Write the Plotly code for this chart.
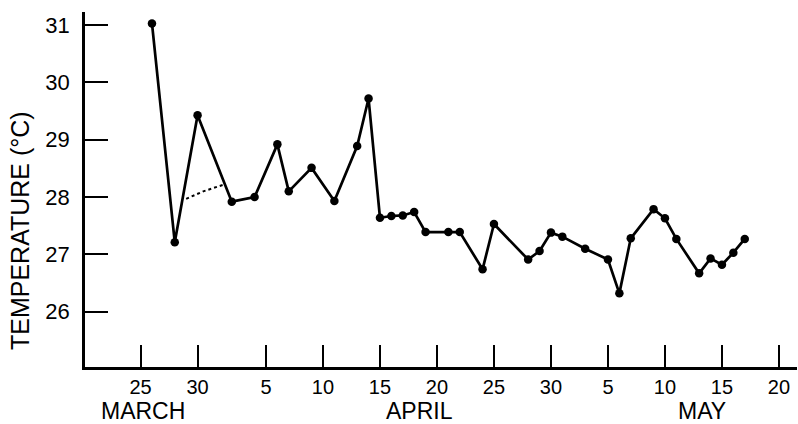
import plotly.graph_objects as go

# Data
dates = ["1970-03-26", "1970-03-28", "1970-03-30", "1970-04-02", "1970-04-04", "1970-04-06",
         "1970-04-07", "1970-04-09", "1970-04-11", "1970-04-13", "1970-04-14", "1970-04-15",
         "1970-04-16", "1970-04-17", "1970-04-18", "1970-04-19", "1970-04-21", "1970-04-22",
         "1970-04-24", "1970-04-25", "1970-04-28", "1970-04-29", "1970-04-30", "1970-05-01",
         "1970-05-03", "1970-05-05", "1970-05-06", "1970-05-07", "1970-05-09", "1970-05-10",
         "1970-05-11", "1970-05-13", "1970-05-14", "1970-05-15", "1970-05-16", "1970-05-17"]
temps = [31.03, 27.21, 29.43, 27.92, 28.00, 28.92,
         28.10, 28.51, 27.93, 28.89, 29.72, 27.64,
         27.67, 27.68, 27.74, 27.39, 27.39, 27.39,
         26.74, 27.53, 26.91, 27.06, 27.38, 27.31,
         27.10, 26.91, 26.32, 27.28, 27.79, 27.63,
         27.27, 26.67, 26.93, 26.82, 27.03, 27.27]

dotted_dates = ["1970-03-29 00:00", "1970-03-30 12:00", "1970-04-01 08:00"]
dotted_temps = [27.97, 28.10, 28.22]

tick_dates = ["1970-03-25", "1970-03-30", "1970-04-05", "1970-04-10", "1970-04-15", "1970-04-20",
              "1970-04-25", "1970-04-30", "1970-05-05", "1970-05-10", "1970-05-15", "1970-05-20"]
tick_labels = ["25", "30", "5", "10", "15", "20", "25", "30", "5", "10", "15", "20"]

y_ticks = [26, 27, 28, 29, 30, 31]

month_names = ["MARCH", "APRIL", "MAY"]
month_pos = ["1970-03-25 06:00", "1970-04-18 12:00", "1970-05-13 06:00"]

FONT = "Liberation Sans"

fig = go.Figure()
fig.add_trace(go.Scatter(
    x=dotted_dates, y=dotted_temps, mode="lines",
    line=dict(color="black", width=2, dash="dot"), hoverinfo="skip", showlegend=False))
fig.add_trace(go.Scatter(
    x=dates, y=temps, mode="lines+markers",
    line=dict(color="black", width=2.7),
    marker=dict(color="black", size=8.5),
    showlegend=False))

for name, pos in zip(month_names, month_pos):
    fig.add_annotation(x=pos, xref="x", y=0, yref="paper", yshift=-44,
                       text=name, showarrow=False, xanchor="center", yanchor="middle",
                       font=dict(family=FONT, size=23, color="black"))

fig.add_annotation(x=0, xref="paper", xshift=-65, y=0.383, yref="paper",
                   text="TEMPERATURE (°C)", textangle=-90, showarrow=False,
                   xanchor="center", yanchor="middle",
                   font=dict(family=FONT, size=25, color="black"))

fig.update_layout(
    width=798, height=424,
    margin=dict(l=85, r=1, t=12, b=57, autoexpand=False),
    paper_bgcolor="white", plot_bgcolor="white",
    font=dict(family=FONT, color="black"),
)
fig.update_xaxes(
    type="date", range=["1970-03-20 03:00", "1970-05-21 14:00"],
    tickvals=tick_dates, ticktext=tick_labels,
    ticks="inside", ticklen=22, tickwidth=2, tickcolor="black",
    showline=True, linecolor="black", linewidth=2.5,
    showgrid=False, zeroline=False, automargin=False,
    tickfont=dict(family=FONT, size=20, color="black"),
    ticklabelstandoff=0,
)
fig.update_yaxes(
    range=[25.035, 31.23],
    tickvals=y_ticks, ticktext=[str(v) for v in y_ticks],
    ticks="inside", ticklen=23, tickwidth=2, tickcolor="black",
    showline=True, linecolor="black", linewidth=2.5,
    showgrid=False, zeroline=False, automargin=False,
    tickfont=dict(family=FONT, size=22, color="black"),
    ticklabelstandoff=8,
)

fig.write_html("out.html", config={"displayModeBar": False},
               post_script="document.body.style.margin='0px';")
